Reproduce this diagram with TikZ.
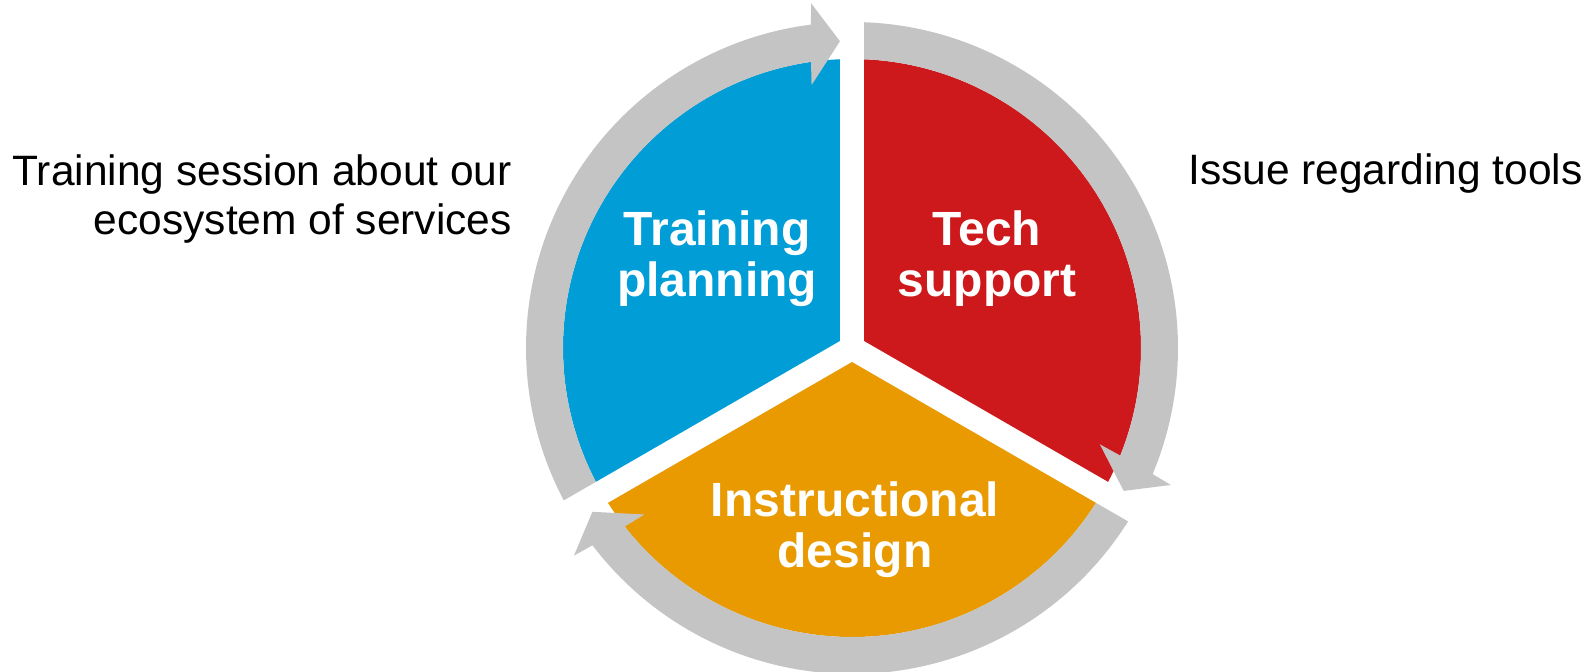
\documentclass[tikz,border=0pt]{standalone}
\usepackage{fontspec}
\setmainfont{Liberation Sans}
\definecolor{planblue}{RGB}{0,157,214}
\definecolor{techred}{RGB}{205,25,27}
\definecolor{designorange}{RGB}{232,154,0}
\definecolor{ringgray}{RGB}{196,196,196}

% gray ring arrow, clockwise: tail angle, tip angle
\newcommand{\ringarrow}[2]{%
  \fill[ringgray] (#1:326) arc[start angle=#1, end angle={#2+5}, radius=326]
    -- ({#2+4.5}:347) -- (#2:307) -- ({#2+6.5}:266) -- ({#2+5.9}:289)
    arc[start angle={#2+5.9}, end angle=#1, radius=289] -- cycle;}

\begin{document}
\begin{tikzpicture}[x=1pt,y=1pt,
	inlbl/.style={text=white, font=\bfseries\fontsize{48}{51}\selectfont, align=center, inner sep=0pt},
	outlbl/.style={font=\fontsize{42.5}{49}\selectfont, inner sep=0pt}]
	\useasboundingbox (0,0) rectangle (1593,672);
	\begin{scope}[shift={(852,324)}]
	\fill[planblue] (0,0) -- (90:289) arc[start angle=90, end angle=210, radius=289] -- cycle;
	\fill[techred] (0,0) -- (-30:289) arc[start angle=-30, end angle=90, radius=289] -- cycle;
	\fill[designorange] (0,0) -- (210:289) arc[start angle=210, end angle=330, radius=289] -- cycle;
	\ringarrow{210}{92.25}
	\ringarrow{90}{-27.75}
	\ringarrow{-30}{-147.75}
	\foreach \a in {90,210,330}
		\draw[white, line width=24] (0,0) -- (\a:370);
	\end{scope}
	
	\node[inlbl] (plan) at (717,413) {Training\\planning};
	\node[inlbl] (tech) at (987,413) {Tech\\support};
	\node[inlbl] (design) at (855,142) {Instructional\\design};
	\node[outlbl, align=right, anchor=east] (session) at (512,473) {Training session about our\\ecosystem of services};
	\node[outlbl, anchor=west] (issue) at (1188,498) {Issue regarding tools};
\end{tikzpicture}
\end{document}
